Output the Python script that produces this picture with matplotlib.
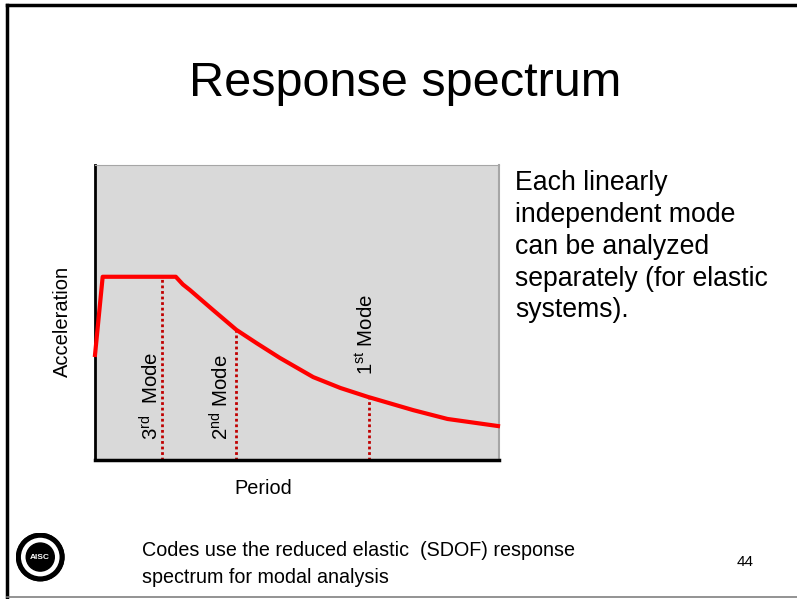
import matplotlib
matplotlib.use("Agg")
import matplotlib.pyplot as plt
from matplotlib.patches import Circle
from matplotlib.lines import Line2D

plt.rcParams['font.family'] = ['Liberation Sans', 'DejaVu Sans']
plt.rcParams['mathtext.fontset'] = 'custom'
plt.rcParams['mathtext.rm'] = 'Liberation Sans'
plt.rcParams['mathtext.it'] = 'Liberation Sans'

# spectrum curve (period vs. spectral acceleration)
period = [0.0, 0.076, 0.80, 0.87, 0.94, 1.17, 1.40, 1.60, 1.83, 2.16, 2.43, 2.70, 3.15, 3.49, 3.99]
accel = [0.356, 0.621, 0.621, 0.595, 0.576, 0.508, 0.441, 0.396, 0.346, 0.281, 0.244, 0.214, 0.169, 0.139, 0.115]

# modal periods and the spectral value at each
mode_names = ["3$^{\\mathrm{rd}}$  Mode", "2$^{\\mathrm{nd}}$ Mode", "1$^{\\mathrm{st}}$ Mode"]
mode_T = [0.66, 1.40, 2.71]
mode_Sa = [0.621, 0.441, 0.214]
label_x = [0.55, 1.25, 2.69]
label_y = [0.068, 0.068, 0.288]

fig = plt.figure(figsize=(7.97, 5.99), dpi=100)

# slide frame
fig.add_artist(Line2D([0.009, 1.0], [0.991, 0.991], color='black', lw=2.5, transform=fig.transFigure))
fig.add_artist(Line2D([0.009, 0.009], [0.003, 0.991], color='black', lw=2.5, transform=fig.transFigure))
fig.add_artist(Line2D([0.009, 1.0], [0.004, 0.004], color='#808080', lw=1.2, transform=fig.transFigure))

fig.text(0.508, 0.861, "Response spectrum", ha='center', va='center', fontsize=35)

ax = fig.add_axes([0.1192, 0.2321, 0.5069, 0.4925])
ax.set_facecolor('#D9D9D9')
ax.plot(period, accel, color='#FF0000', lw=3, solid_joinstyle='round', clip_on=False, zorder=3)
for T, Sa in zip(mode_T, mode_Sa):
    ax.plot([T, T], [0, Sa], color='#C00000', lw=2, ls=(0, (1, 1)), zorder=2)
for name, x, y in zip(mode_names, label_x, label_y):
    ax.text(x, y, name, rotation=90, ha='center', va='bottom', fontsize=14.7)

ax.set_xlim(0, 4)
ax.set_ylim(0, 1)
ax.set_xticks([])
ax.set_yticks([])
ax.spines['left'].set_linewidth(2)
ax.spines['bottom'].set_linewidth(2.5)
ax.spines['top'].set_color('#A6A6A6')
ax.spines['right'].set_color('#A6A6A6')
ax.spines['right'].set_linewidth(1.5)
ax.set_xlabel("Period", fontsize=14.3)
ax.set_ylabel("Acceleration", fontsize=14.5)
ax.xaxis.set_label_coords(0.417, -0.063)
ax.yaxis.set_label_coords(-0.058, 0.47)

fig.text(0.646, 0.716, "Each linearly\nindependent mode\ncan be analyzed\nseparately (for elastic\nsystems).",
         ha='left', va='top', fontsize=19.2, linespacing=1.29)

fig.text(0.178, 0.0584, "Codes use the reduced elastic  (SDOF) response\nspectrum for modal analysis",
         ha='left', va='center', fontsize=14.2, linespacing=1.5)
fig.text(0.935, 0.062, "44", ha='center', va='center', fontsize=11)

# society seal in the corner
lg = fig.add_axes([0.019, 0.029, 0.063, 0.082])
lg.set_aspect('equal')
lg.set_xlim(-1.05, 1.05)
lg.set_ylim(-1.05, 1.05)
lg.axis('off')
lg.add_patch(Circle((0, 0), 1.0, fc='white', ec='black', lw=1.5))
lg.add_patch(Circle((0, 0), 0.93, fc='none', ec='black', lw=3.5))
lg.add_patch(Circle((0, 0), 0.6, fc='black', ec='black'))
lg.text(0, 0, "AISC", color='white', ha='center', va='center', fontsize=6, fontweight='bold')

fig.savefig("out.png", dpi=100)
